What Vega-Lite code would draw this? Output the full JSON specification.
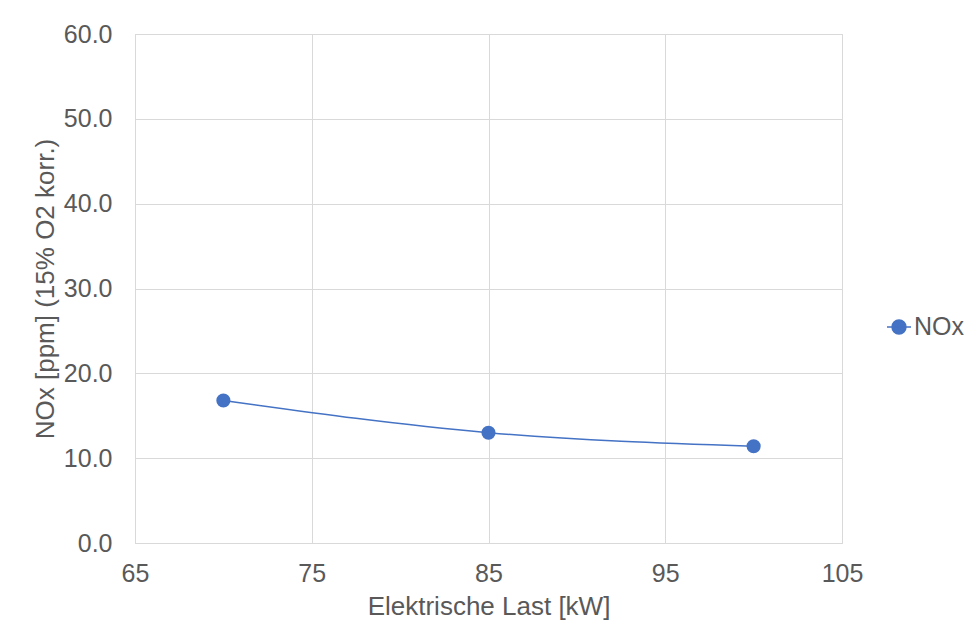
{
  "$schema": "https://vega.github.io/schema/vega-lite/v6.json",
  "autosize": "none",
  "width": 707,
  "height": 509,
  "padding": {"left": 135, "top": 34, "right": 129, "bottom": 90},
  "background": "white",
  "config": {
    "font": "Liberation Sans",
    "view": {"stroke": "#d9d9d9"},
    "axis": {"labelColor": "#595959", "titleColor": "#595959", "gridColor": "#d9d9d9", "domainColor": "#d9d9d9", "ticks": false, "titleFontWeight": "normal"}
  },
  "data": {"values": [
    {"load": 70, "nox": 16.8, "series": "NOx"},
    {"load": 85, "nox": 13.0, "series": "NOx"},
    {"load": 100, "nox": 11.4, "series": "NOx"}
  ]},
  "layer": [
    {
      "mark": {"type": "line", "interpolate": "monotone", "strokeWidth": 1.5},
      "encoding": {
        "x": {"field": "load", "type": "quantitative", "scale": {"domain": [65, 105], "nice": false, "zero": false},
          "axis": {"values": [65, 75, 85, 95, 105], "title": "Elektrische Last [kW]", "labelFontSize": 25, "titleFontSize": 26, "labelPadding": 18, "titlePadding": 7, "labelFlush": false}},
        "y": {"field": "nox", "type": "quantitative", "scale": {"domain": [0, 60], "nice": false},
          "axis": {"values": [0, 10, 20, 30, 40, 50, 60], "format": ".1f", "title": "NOx [ppm] (15% O2 korr.)", "labelFontSize": 25, "titleFontSize": 26, "labelPadding": 23, "titlePadding": 5}},
        "color": {"field": "series", "type": "nominal", "scale": {"range": ["#4472c4"]},
          "legend": {"title": null, "orient": "none", "legendX": 751, "legendY": 280, "labelFontSize": 25, "labelColor": "#595959", "symbolType": "M-1,0L1,0M0.58,0A0.58,0.58 0 1,1 -0.58,0A0.58,0.58 0 1,1 0.58,0Z", "symbolSize": 576, "symbolStrokeWidth": 1.5, "symbolFillColor": "#4472c4", "labelOffset": 2}}
      }
    },
    {
      "mark": {"type": "point", "filled": true, "size": 200, "opacity": 1},
      "encoding": {
        "x": {"field": "load", "type": "quantitative"},
        "y": {"field": "nox", "type": "quantitative"},
        "color": {"field": "series", "type": "nominal", "legend": null}
      }
    }
  ]
}
